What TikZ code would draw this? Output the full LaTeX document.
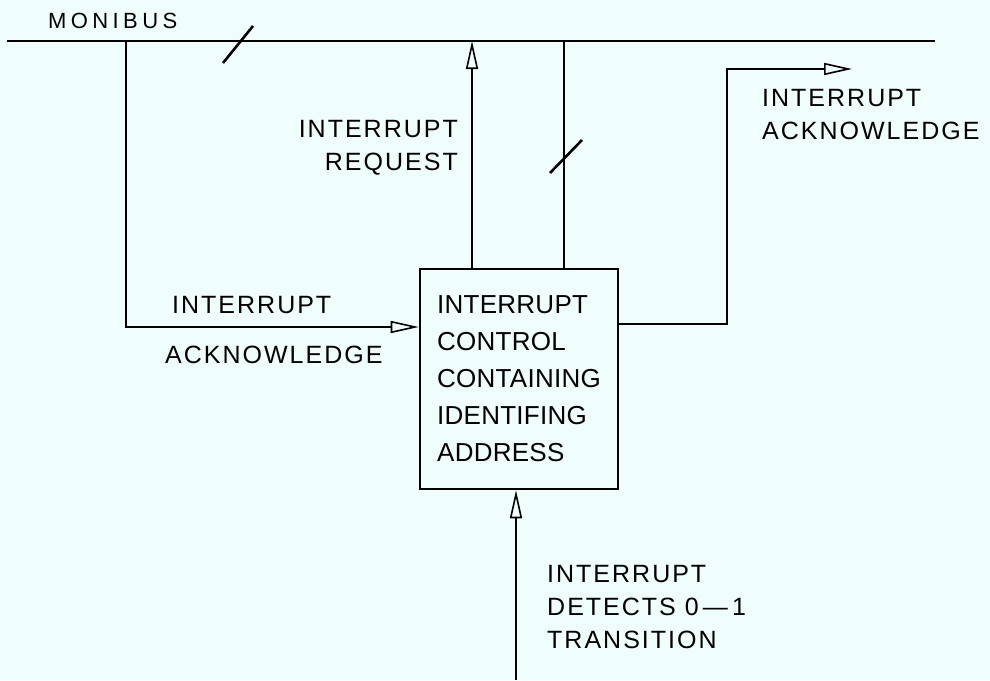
\documentclass[tikz,border=0pt]{standalone}
\usepackage{fontspec}
\usetikzlibrary{arrows.meta}
\newfontfamily\lblfont[LetterSpace=8]{Liberation Sans}
\newfontfamily\busfont[LetterSpace=20]{Liberation Sans}
\newfontfamily\boxfont[LetterSpace=1]{Liberation Sans}
\definecolor{paper}{RGB}{240,253,253}
\tikzset{
  wire/.style={line width=2.6pt, line join=miter},
  busline/.style={line width=2.9pt},
  arr/.style={-{Triangle[open,length=28pt,width=12pt,line width=1.6pt]}},
  lbl/.style={inner sep=0pt, font=\lblfont\fontsize{25}{33}\selectfont},
  buslbl/.style={inner sep=0pt, font=\busfont\fontsize{22}{26}\selectfont},
  ctrlbox/.style={draw, line width=2.6pt, minimum width=198pt, minimum height=220pt,
    inner sep=0pt, align=left, font=\boxfont\fontsize{26}{37}\selectfont},
}
\begin{document}
\begin{tikzpicture}[x=1pt,y=-1pt]
\fill[paper] (0,0) rectangle (990,680);
\useasboundingbox (0,0) rectangle (990,680);

% bus
\coordinate (busL) at (7,41);
\coordinate (busR) at (935,41);
\draw[busline] (busL) -- (busR);
\node[buslbl, anchor=base west] (monibus) at (48,28) {MONIBUS};
\draw[wire] (223,63) -- (253,26);

% control box
\node[ctrlbox] (box) at (519,379) {INTERRUPT\\CONTROL\\CONTAINING\\IDENTIFING\\ADDRESS};

% junctions on the bus
\coordinate (jA) at (126,41);
\coordinate (jR) at (472,41);
\coordinate (jD) at (564,41);

% interrupt acknowledge in (left)
\coordinate (cA) at (126,327);
\draw[wire,arr] (jA) -- (cA) -- (cA -| box.west);
\node[lbl, anchor=base west] (ackinA) at (172,313) {INTERRUPT};
\node[lbl, anchor=base west] (ackinB) at (165,363) {ACKNOWLEDGE};

% interrupt request (up to bus)
\draw[wire,arr] (box.north -| jR) -- (jR);
\node[lbl, anchor=north east, align=right] (req) at (458,120) {INTERRUPT\\REQUEST};

% data lines to bus
\draw[wire] (box.north -| jD) -- (jD);
\draw[wire] (550,173) -- (582,140);

% interrupt acknowledge out (right)
\coordinate (cB) at (727,324);
\coordinate (cC) at (727,69);
\coordinate (ackEnd) at (852,69);
\draw[wire,arr] (cB -| box.east) -- (cB) -- (cC) -- (ackEnd);
\node[lbl, anchor=north west, align=left] (ackout) at (762,89) {INTERRUPT\\ACKNOWLEDGE};

% interrupt input (bottom)
\coordinate (bot) at (516,680);
\draw[wire,arr] (bot) -- (bot |- box.south);
\node[lbl, anchor=north west, align=left] (detect) at (547,565) {INTERRUPT\\DETECTS 0\,\textemdash\,1\\TRANSITION};
\end{tikzpicture}
\end{document}
